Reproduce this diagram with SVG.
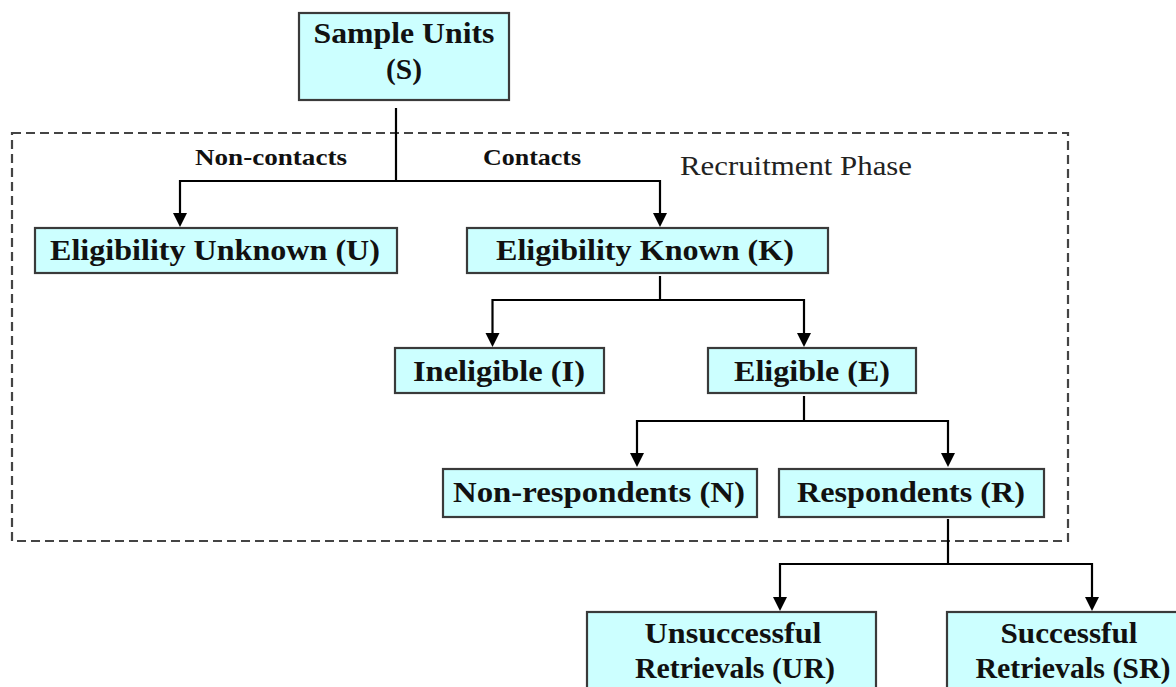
<svg xmlns="http://www.w3.org/2000/svg" width="1176" height="687" viewBox="0 0 1176 687">
  <style>
    .box { fill: #ccffff; stroke: #3a3a3a; stroke-width: 2.2; }
    .lbl { font-family: 'Liberation Serif', serif; font-weight: 700; font-size: 29px; fill: #111; text-anchor: middle; }
    .edge-lbl { font-family: 'Liberation Serif', serif; font-weight: 700; font-size: 24px; fill: #111; text-anchor: middle; }
    .phase { font-family: 'Liberation Serif', serif; font-size: 27px; fill: #222; }
    .wire { fill: none; stroke: #000; stroke-width: 2.2; }
    .frame { fill: none; stroke: #444; stroke-width: 2.2; stroke-dasharray: 9 5; }
  </style>
  <defs>
    <marker id="arrow" markerUnits="userSpaceOnUse" markerWidth="16" markerHeight="16" refX="8" refY="7" orient="auto">
      <path d="M0,0 L14,7 L0,14 z" fill="#000"/>
    </marker>
  </defs>

  <rect width="1176" height="687" fill="#fff"/>

  <!-- recruitment phase boundary -->
  <g id="recruitment-phase">
    <rect class="frame" x="12" y="133" width="1056" height="408"/>
    <text class="phase" font-family="Liberation Serif" x="680" y="175" textLength="232" lengthAdjust="spacingAndGlyphs">Recruitment Phase</text>
  </g>

  <!-- connectors -->
  <g id="connectors">
    <path class="wire" d="M396,108 V181"/>
    <path class="wire" d="M396,181 H180 V221" marker-end="url(#arrow)"/>
    <path class="wire" d="M396,181 H660 V221" marker-end="url(#arrow)"/>
    <text class="edge-lbl" x="271" y="165" textLength="152" lengthAdjust="spacingAndGlyphs">Non-contacts</text>
    <text class="edge-lbl" x="532" y="165" textLength="98" lengthAdjust="spacingAndGlyphs">Contacts</text>

    <path class="wire" d="M660,276 V300"/>
    <path class="wire" d="M660,300 H492.5 V341" marker-end="url(#arrow)"/>
    <path class="wire" d="M660,300 H804 V341" marker-end="url(#arrow)"/>

    <path class="wire" d="M804,396 V421"/>
    <path class="wire" d="M804,421 H637 V461" marker-end="url(#arrow)"/>
    <path class="wire" d="M804,421 H948 V461" marker-end="url(#arrow)"/>

    <path class="wire" d="M948,519 V564"/>
    <path class="wire" d="M948,564 H780 V605" marker-end="url(#arrow)"/>
    <path class="wire" d="M948,564 H1092 V605" marker-end="url(#arrow)"/>
  </g>

  <!-- nodes -->
  <g id="node-S">
    <rect class="box" x="299" y="13" width="210" height="87"/>
    <text class="lbl" x="404" y="43" textLength="181" lengthAdjust="spacingAndGlyphs">Sample Units</text>
    <text class="lbl" x="404" y="79" textLength="36" lengthAdjust="spacingAndGlyphs">(S)</text>
  </g>

  <g id="node-U">
    <rect class="box" x="35" y="228" width="362" height="45"/>
    <text class="lbl" x="215" y="260" textLength="330" lengthAdjust="spacingAndGlyphs">Eligibility Unknown (U)</text>
  </g>

  <g id="node-K">
    <rect class="box" x="467" y="228" width="361" height="45"/>
    <text class="lbl" x="645" y="260" textLength="298" lengthAdjust="spacingAndGlyphs">Eligibility Known (K)</text>
  </g>

  <g id="node-I">
    <rect class="box" x="395" y="348" width="209" height="45"/>
    <text class="lbl" x="499" y="381" textLength="172" lengthAdjust="spacingAndGlyphs">Ineligible (I)</text>
  </g>

  <g id="node-E">
    <rect class="box" x="708" y="348" width="208" height="45"/>
    <text class="lbl" x="812" y="381" textLength="156" lengthAdjust="spacingAndGlyphs">Eligible (E)</text>
  </g>

  <g id="node-N">
    <rect class="box" x="443" y="469" width="314" height="48"/>
    <text class="lbl" x="599" y="502" textLength="292" lengthAdjust="spacingAndGlyphs">Non-respondents (N)</text>
  </g>

  <g id="node-R">
    <rect class="box" x="779" y="469" width="265" height="48"/>
    <text class="lbl" x="911" y="502" textLength="228" lengthAdjust="spacingAndGlyphs">Respondents (R)</text>
  </g>

  <g id="node-UR">
    <rect class="box" x="587" y="612" width="289" height="90"/>
    <text class="lbl" x="733" y="643" textLength="177" lengthAdjust="spacingAndGlyphs">Unsuccessful</text>
    <text class="lbl" x="735" y="678" textLength="200" lengthAdjust="spacingAndGlyphs">Retrievals (UR)</text>
  </g>

  <g id="node-SR">
    <rect class="box" x="947" y="612" width="246" height="90"/>
    <text class="lbl" x="1069" y="643" textLength="137" lengthAdjust="spacingAndGlyphs">Successful</text>
    <text class="lbl" x="1073" y="678" textLength="195" lengthAdjust="spacingAndGlyphs">Retrievals (SR)</text>
  </g>
</svg>
